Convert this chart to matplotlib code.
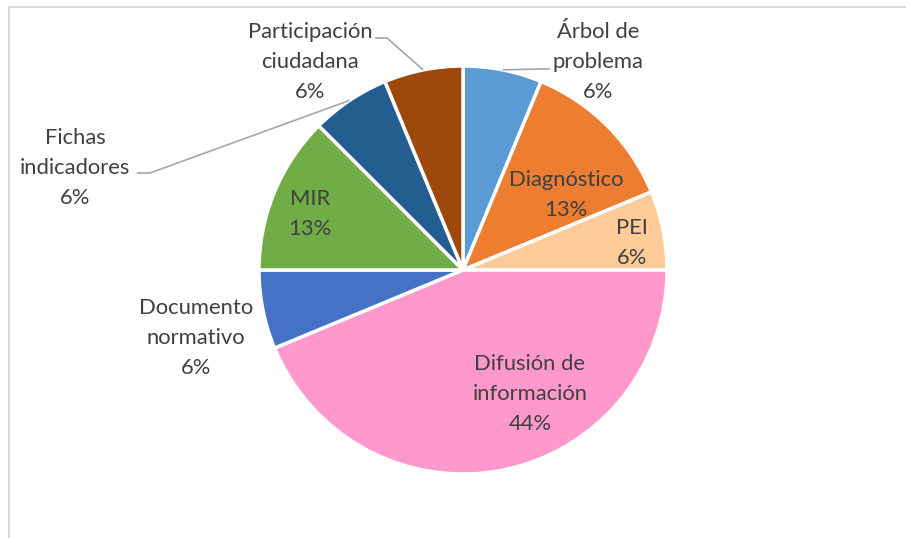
import matplotlib
matplotlib.use("Agg")
import matplotlib.pyplot as plt
import numpy as np
import math

categories = ["Árbol de\nproblema", "Diagnóstico", "PEI", "Difusión de\ninformación",
              "Documento\nnormativo", "MIR", "Fichas\nindicadores", "Participación\nciudadana"]
counts = [1, 2, 1, 7, 1, 2, 1, 1]
colors = ["#5B9BD5", "#ED7D31", "#FFCC99", "#FF99CC", "#4472C4", "#70AD47", "#255E91", "#9E480E"]

# label block centers in pixel coords (x, y from top), and leader elbows
label_pos = [(598, 62), (566, 195), (632, 243), (530, 394), (196, 338), (310, 214), (75, 168), (310, 62)]
leaders = {0: [(550, 69), (537, 69)], 6: [(137, 173), (150, 173)], 7: [(375, 38), (387, 38)]}

W, H = 906, 538
fig = plt.figure(figsize=(W / 100, H / 100), dpi=100)
ax = fig.add_axes([0, 0, 1, 1])
cx, cy, R = 463, 270, 204

def Y(y):
    return H - y

wedges, _ = ax.pie(counts, colors=colors, startangle=90, counterclock=False,
                   center=(cx, Y(cy)), radius=R,
                   wedgeprops=dict(edgecolor="white", linewidth=2.5))
ax.set_xlim(0, W)
ax.set_ylim(0, H)
ax.set_aspect("auto")
ax.axis("off")

total = sum(counts)
font = dict(family=["Lato", "DejaVu Sans"], fontsize=15.8, color="#404040")
for i, (lab, c) in enumerate(zip(categories, counts)):
    pct = f"{math.floor(100 * c / total + 0.5)}%"
    x, y = label_pos[i]
    ax.text(x, Y(y), f"{lab}\n{pct}", ha="center", va="center", linespacing=1.62, **font)
    if i in leaders:
        w = wedges[i]
        mid = np.deg2rad((w.theta1 + w.theta2) / 2)
        ex = cx + R * np.cos(mid)
        ey = Y(cy) + R * np.sin(mid)
        pts = leaders[i]
        xs = [pts[0][0], pts[1][0], ex]
        ys = [Y(pts[0][1]), Y(pts[1][1]), ey]
        ax.plot(xs, ys, color="#A6A6A6", linewidth=1.2, solid_capstyle="butt")

# chart frame
ax.plot([8.5, 8.5, W + 5], [-5, Y(6.5), Y(6.5)], color="#D9D9D9", linewidth=1.5)

fig.savefig("out.png", dpi=100)
